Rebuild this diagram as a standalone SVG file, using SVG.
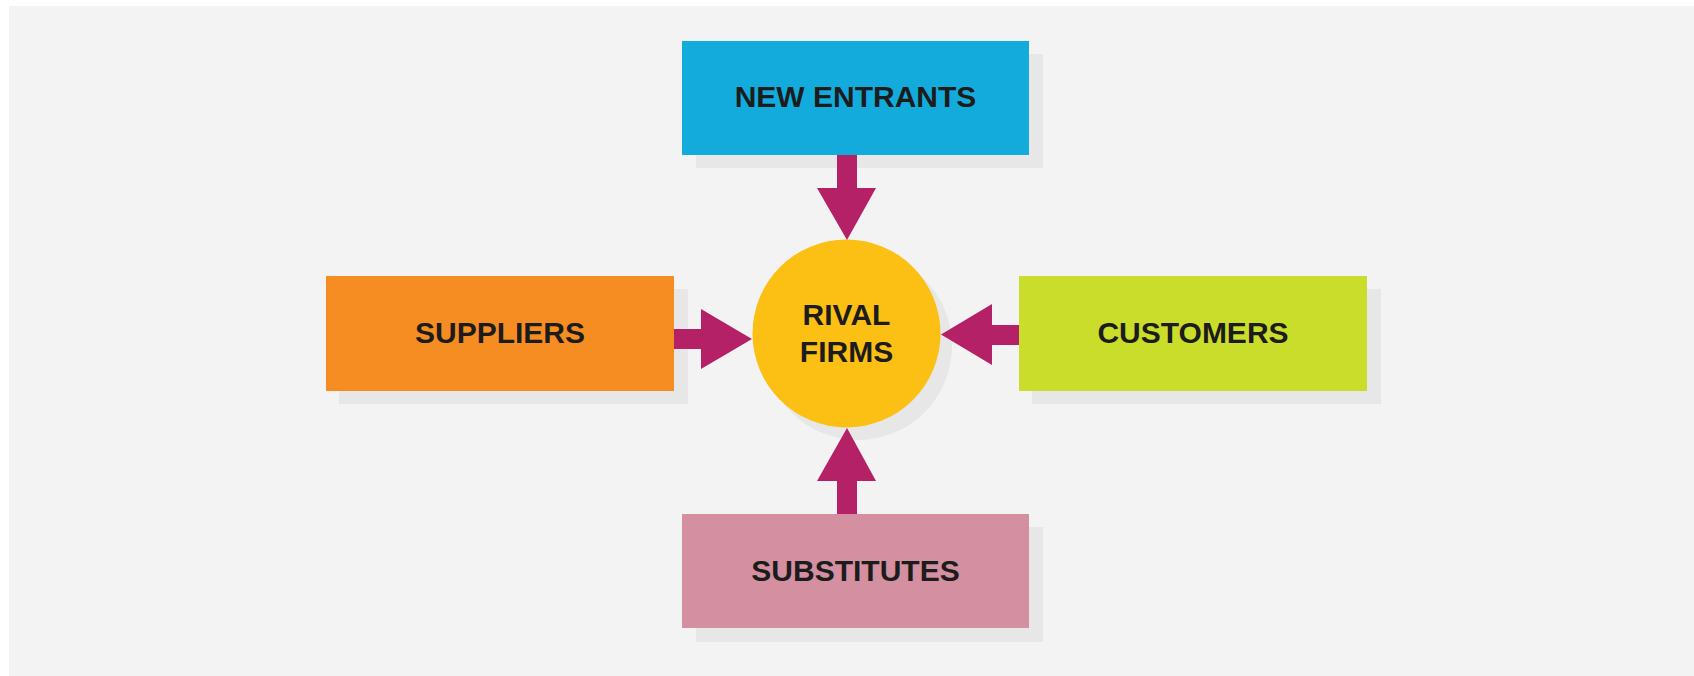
<svg xmlns="http://www.w3.org/2000/svg" width="1694" height="676" viewBox="0 0 1694 676">
<style>
.shadow{fill:#e7e7e7}
.lbl{font-family:"Liberation Sans",Arial,Helvetica,sans-serif;font-weight:bold;font-size:30px;fill:#1c1c1c;text-anchor:middle}
.arrow{fill:#b52167}
</style>
<rect x="0" y="0" width="1694" height="676" fill="#ffffff"/>
<rect x="9" y="6" width="1685" height="670" fill="#f3f3f3"/>
<g id="new-entrants">
<rect class="shadow" x="696" y="54" width="347" height="114"/>
<rect x="682" y="41" width="347" height="114" fill="#12abdc"/>
<text class="lbl" x="855.5" y="107">NEW ENTRANTS</text>
</g>
<g id="suppliers">
<rect class="shadow" x="339" y="289" width="349" height="115"/>
<rect x="326" y="276" width="348" height="115" fill="#f68d23"/>
<text class="lbl" x="500" y="343">SUPPLIERS</text>
</g>
<g id="customers">
<rect class="shadow" x="1032" y="289" width="349" height="115"/>
<rect x="1019" y="276" width="348" height="115" fill="#c9dd2a"/>
<text class="lbl" x="1193" y="343">CUSTOMERS</text>
</g>
<g id="substitutes">
<rect class="shadow" x="696" y="527" width="347" height="115"/>
<rect x="682" y="514" width="347" height="114" fill="#d48fa1"/>
<text class="lbl" x="855.5" y="581">SUBSTITUTES</text>
</g>
<g id="rival-firms">
<circle class="shadow" cx="858" cy="346" r="94"/>
<circle cx="846.5" cy="333.5" r="94" fill="#fcbf14"/>
<text class="lbl" x="846.5" y="325">RIVAL</text>
<text class="lbl" x="846.5" y="362">FIRMS</text>
</g>
<g id="connectors">
<polygon class="arrow" points="837,155 857,155 857,188 876,188 847,240 817,188 837,188"/>
<polygon class="arrow" points="837,514 857,514 857,481 876,481 847,428 817,481 837,481"/>
<polygon class="arrow" points="674,329 701,329 701,309 752,339 701,369 701,349 674,349"/>
<polygon class="arrow" points="1019,325 992,325 992,304 941,334.5 992,365 992,345 1019,345"/>
</g>
</svg>
